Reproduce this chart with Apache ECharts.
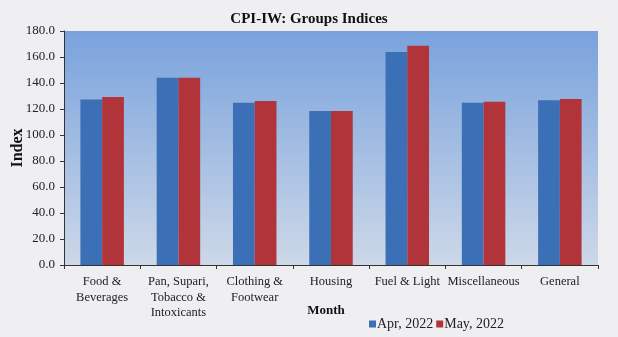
<!DOCTYPE html>
<html>
<head>
<meta charset="utf-8">
<script src="https://cdn.jsdelivr.net/npm/echarts@6/dist/echarts.min.js"></script>
<style>
html,body{margin:0;padding:0;background:#efeef1;}
#c{width:618px;height:337px;}
</style>
</head>
<body>
<div id="c"></div>
<script>
const categories = ['Food &\nBeverages', 'Pan, Supari,\nTobacco &\nIntoxicants', 'Clothing &\nFootwear', 'Housing', 'Fuel & Light', 'Miscellaneous', 'General'];
const apr2022 = [127.4, 144.0, 124.9, 118.4, 163.8, 124.9, 126.7];
const may2022 = [129.2, 144.0, 126.2, 118.4, 168.7, 125.6, 127.7];
const seriesNames = ['Apr, 2022', 'May, 2022'];

const serif = 'Liberation Serif';
const chart = echarts.init(document.getElementById('c'));
chart.setOption({
  backgroundColor: '#efeef1',
  animation: false,
  title: {
    text: 'CPI-IW: Groups Indices',
    left: 'center',
    top: 7,
    textStyle: {fontFamily: serif, fontSize: 15, fontWeight: 'bold', color: '#111'}
  },
  legend: {
    data: seriesNames,
    left: 364,
    top: 312,
    icon: 'rect',
    itemWidth: 7,
    itemHeight: 7,
    itemGap: 3,
    textStyle: {fontFamily: serif, fontSize: 14, color: '#222', padding: [0, 0, 0, -4]}
  },
  grid: {
    left: 64, right: 20, top: 31, bottom: 72,
    outerBoundsMode: 'none',
    containLabel: false,
    show: true,
    borderWidth: 0,
    backgroundColor: new echarts.graphic.LinearGradient(0, 0, 0, 1, [
      {offset: 0, color: '#79a2dd'},
      {offset: 1, color: '#cdd8e8'}
    ])
  },
  xAxis: {
    type: 'category',
    data: categories,
    name: 'Month',
    nameLocation: 'middle',
    nameGap: 39,
    nameMoveOverlap: false,
    nameTextStyle: {fontFamily: serif, fontSize: 13, fontWeight: 'bold', color: '#111', padding: [0, 10, 0, 0]},
    axisLine: {lineStyle: {color: '#333', width: 1}},
    axisTick: {show: true, length: 4, lineStyle: {color: '#333'}},
    axisLabel: {interval: 0, fontFamily: serif, fontSize: 12.5, color: '#222', lineHeight: 15.5, margin: 9}
  },
  yAxis: {
    type: 'value',
    min: 0, max: 180, interval: 20,
    name: 'Index',
    nameLocation: 'middle',
    nameGap: 38,
    nameMoveOverlap: false,
    nameTextStyle: {fontFamily: serif, fontSize: 16, fontWeight: 'bold', color: '#111'},
    axisLine: {show: true, lineStyle: {color: '#333', width: 1}},
    axisTick: {show: true, length: 4, lineStyle: {color: '#333'}},
    splitLine: {show: false},
    axisLabel: {fontFamily: serif, fontSize: 13, color: '#222', margin: 9, formatter: v => v.toFixed(1)}
  },
  series: [
    {name: seriesNames[0], type: 'bar', data: apr2022, itemStyle: {color: '#3b6fb6'}, barGap: '0%', barCategoryGap: '43%'},
    {name: seriesNames[1], type: 'bar', data: may2022, itemStyle: {color: '#b0343a'}, barGap: '0%', barCategoryGap: '43%'}
  ]
});
</script>
</body>
</html>
